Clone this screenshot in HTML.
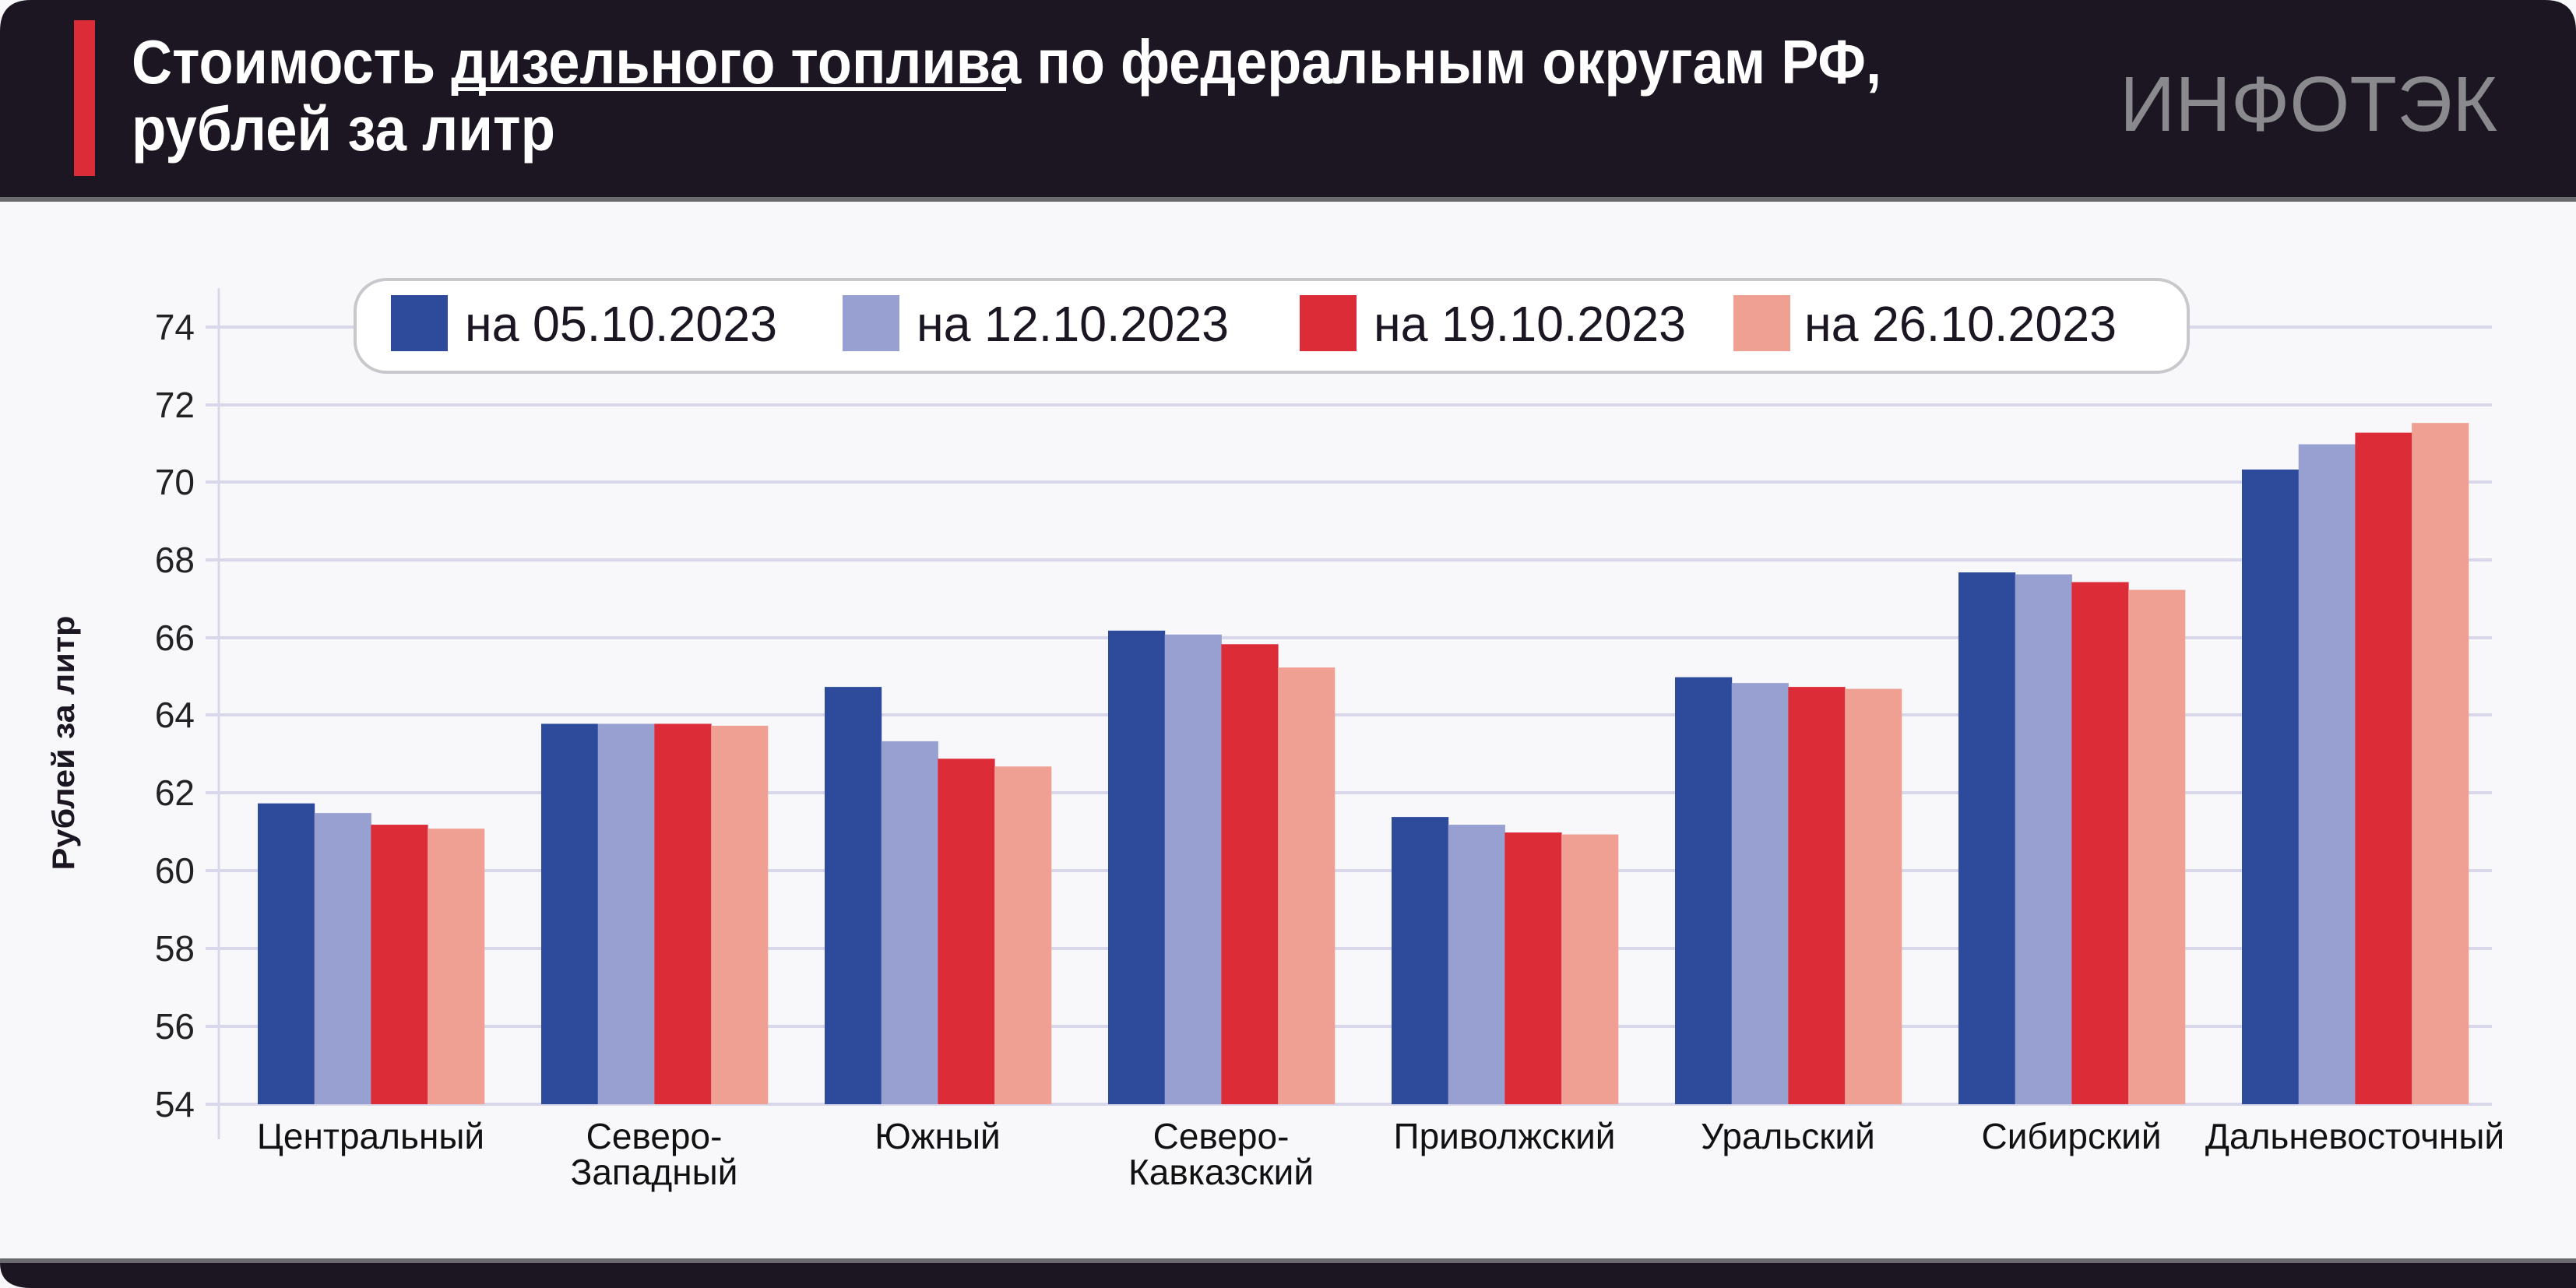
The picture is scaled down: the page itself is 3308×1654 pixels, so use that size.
<!DOCTYPE html>
<html><head><meta charset="utf-8"><style>
html,body{margin:0;padding:0;background:#f8f8fb;}
svg{display:block;}
text{font-family:"Liberation Sans","DejaVu Sans",sans-serif;}
</style></head><body>
<svg width="3308" height="1654" viewBox="0 0 3308 1654" xmlns="http://www.w3.org/2000/svg">
<rect x="0" y="0" width="3308" height="1654" fill="#f8f8fb"/>
<path d="M0 40 Q0 0 40 0 H3268 Q3308 0 3308 40 V253 H0 Z" fill="#1b1622"/>
<rect x="0" y="253" width="3308" height="6" fill="#6b6a6f"/>
<rect x="95" y="26" width="27" height="200" fill="#dc2c38"/>
<text x="169" y="107" font-size="80" font-weight="bold" fill="#ffffff" textLength="2247" lengthAdjust="spacingAndGlyphs">Стоимость дизельного топлива по федеральным округам РФ,</text>
<rect x="584" y="112" width="708" height="5" fill="#ffffff"/>
<text x="169" y="193" font-size="80" font-weight="bold" fill="#ffffff" textLength="544" lengthAdjust="spacingAndGlyphs">рублей за литр</text>
<text x="2722" y="168" font-size="100" fill="#8a8a8e" textLength="485" lengthAdjust="spacingAndGlyphs">ИНФОТЭК</text>
<rect x="0" y="1616" width="3308" height="6" fill="#6b6a6f"/>
<path d="M0 1622 H3308 V1654 H40 Q0 1654 0 1622 Z" fill="#1b1622"/>
<g stroke="#d8d8ea" stroke-width="4">
<line x1="264" y1="420" x2="3200" y2="420"/>
<line x1="264" y1="520" x2="3200" y2="520"/>
<line x1="264" y1="619" x2="3200" y2="619"/>
<line x1="264" y1="719" x2="3200" y2="719"/>
<line x1="264" y1="819" x2="3200" y2="819"/>
<line x1="264" y1="918" x2="3200" y2="918"/>
<line x1="264" y1="1018" x2="3200" y2="1018"/>
<line x1="264" y1="1118" x2="3200" y2="1118"/>
<line x1="264" y1="1218" x2="3200" y2="1218"/>
<line x1="264" y1="1318" x2="3200" y2="1318"/>
<line x1="264" y1="1418" x2="3200" y2="1418"/>
</g>
<line x1="281" y1="370" x2="281" y2="1463" stroke="#d8d8ea" stroke-width="3"/>
<g font-size="46" fill="#222" text-anchor="end">
<text x="250" y="436">74</text>
<text x="250" y="536">72</text>
<text x="250" y="635">70</text>
<text x="250" y="735">68</text>
<text x="250" y="835">66</text>
<text x="250" y="934">64</text>
<text x="250" y="1034">62</text>
<text x="250" y="1134">60</text>
<text x="250" y="1234">58</text>
<text x="250" y="1334">56</text>
<text x="250" y="1434">54</text>
</g>
<text transform="translate(95,954) rotate(-90)" font-size="40" font-weight="bold" fill="#1b1622" text-anchor="middle" textLength="327" lengthAdjust="spacingAndGlyphs">Рублей за литр</text>
<g id="bars"></g>
<script>
(function(){
var d=[[61.75,61.5,61.2,61.1],[63.8,63.8,63.8,63.75],[64.75,63.35,62.9,62.7],[66.2,66.1,65.85,65.25],[61.4,61.2,61.0,60.95],[65.0,64.85,64.75,64.7],[67.7,67.65,67.45,67.25],[70.35,71.0,71.3,71.55]];
var c=["#2e4a9a","#97a0d0","#dc2c38","#f0a093"];
var g=document.getElementById("bars"),ns="http://www.w3.org/2000/svg";
for(var i=0;i<8;i++)for(var j=0;j<4;j++){var r=document.createElementNS(ns,"rect");var y=1418-(d[i][j]-54)*49.85;
r.setAttribute("x",331+364*i+72.7*j);r.setAttribute("y",y);r.setAttribute("width",73.2);r.setAttribute("height",1418-y);r.setAttribute("fill",c[j]);g.appendChild(r);}
})();
</script>
<g font-size="46" fill="#111" text-anchor="middle">
<text x="476" y="1475">Центральный</text>
<text x="840" y="1475">Северо-</text><text x="840" y="1521">Западный</text>
<text x="1204" y="1475">Южный</text>
<text x="1568" y="1475">Северо-</text><text x="1568" y="1521">Кавказский</text>
<text x="1932" y="1475">Приволжский</text>
<text x="2296" y="1475">Уральский</text>
<text x="2660" y="1475">Сибирский</text>
<text x="3024" y="1475">Дальневосточный</text>
</g>
<rect x="456" y="359" width="2354" height="119" rx="40" fill="#ffffff" stroke="#c8c8cc" stroke-width="4"/>
<rect x="502" y="379" width="73" height="72" fill="#2e4a9a"/>
<rect x="1082" y="379" width="73" height="72" fill="#97a0d0"/>
<rect x="1669" y="379" width="73" height="72" fill="#dc2c38"/>
<rect x="2226" y="379" width="73" height="72" fill="#f0a093"/>
<g font-size="64" fill="#1b1622">
<text x="597" y="438" textLength="401" lengthAdjust="spacingAndGlyphs">на 05.10.2023</text>
<text x="1177" y="438" textLength="401" lengthAdjust="spacingAndGlyphs">на 12.10.2023</text>
<text x="1764" y="438" textLength="401" lengthAdjust="spacingAndGlyphs">на 19.10.2023</text>
<text x="2317" y="438" textLength="401" lengthAdjust="spacingAndGlyphs">на 26.10.2023</text>
</g>
</svg>
</body></html>
